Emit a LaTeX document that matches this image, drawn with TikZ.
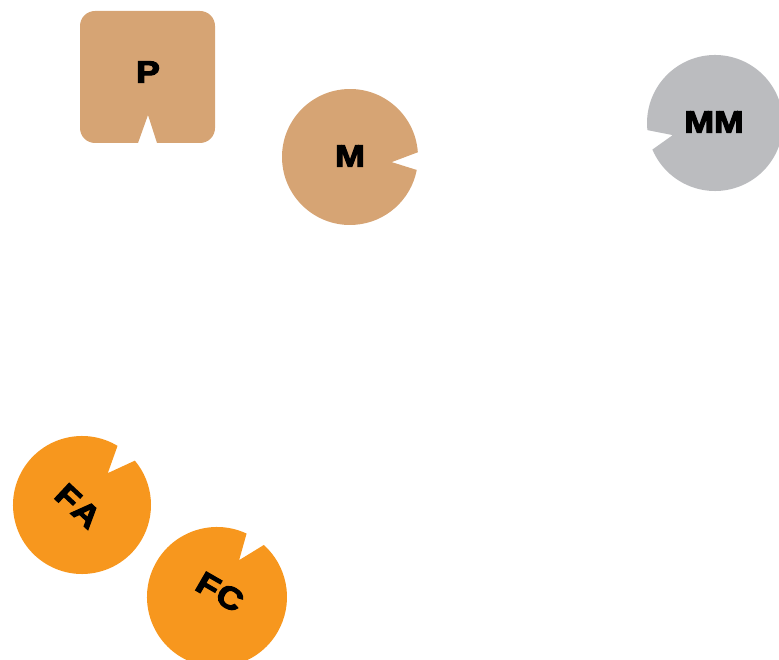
\documentclass[tikz,border=0pt]{standalone}
\usepackage{fontspec}
\setmainfont{Liberation Sans}
\newfontfamily\heavyfont{Liberation Sans}[UprightFont={* Bold}, FakeBold=3.5]
\usetikzlibrary{calc}
\definecolor{tan}{HTML}{D6A474}
\definecolor{orng}{HTML}{F7971E}
\definecolor{gry}{HTML}{BBBCBF}
\tikzset{
  lbl/.style={font=\heavyfont\fontsize{31}{31}\selectfont, inner sep=0pt, text=black},
}
% \notched{name}{cx}{cy}{r}{start}{end}{apex angle}{apex dist}{colour}
\newcommand{\notched}[9]{%
  \coordinate (#1) at (#2,#3);
  \fill[#9] ($(#1)+(#5:#4)$) arc[start angle=#5, end angle=#6, radius=#4]
     -- ($(#1)+(#7:#8)$) -- cycle;
}
\begin{document}
\begin{tikzpicture}[x=1pt,y=1pt]
\useasboundingbox (0,0) rectangle (779,659);
\clip (0,0) rectangle (779,659);
% P
\fill[tan] (138,516) -- (148,544) -- (157,516) -- (200,516)
  arc[start angle=-90,end angle=0,radius=15] -- (215,633)
  arc[start angle=0,end angle=90,radius=15] -- (95,648)
  arc[start angle=90,end angle=180,radius=15] -- (80,531)
  arc[start angle=180,end angle=270,radius=15] -- cycle;
\node[lbl, xscale=1.15] (P) at (148,587) {P};
% M
\notched{cM}{350}{502}{68}{4}{349}{-7}{42}{tan}
\node[lbl, xscale=1.15] (M) at (350,503) {M};
% MM
\notched{cMM}{715}{536}{68}{203}{546}{196}{44}{gry}
\node[lbl, xscale=1.15] (MM) at (714,537) {MM};
% FA
\notched{cFA}{82}{154}{69}{59}{400}{51}{41}{orng}
\node[lbl, rotate=-43, xscale=1.15] (FA) at (78,153) {F\kern1pt A};
% FC
\notched{cFC}{217}{62}{70}{65}{408}{59}{43}{orng}
\node[lbl, rotate=-30, xscale=1.15] (FC) at (220,67) {F\kern1pt C};
\end{tikzpicture}
\end{document}
